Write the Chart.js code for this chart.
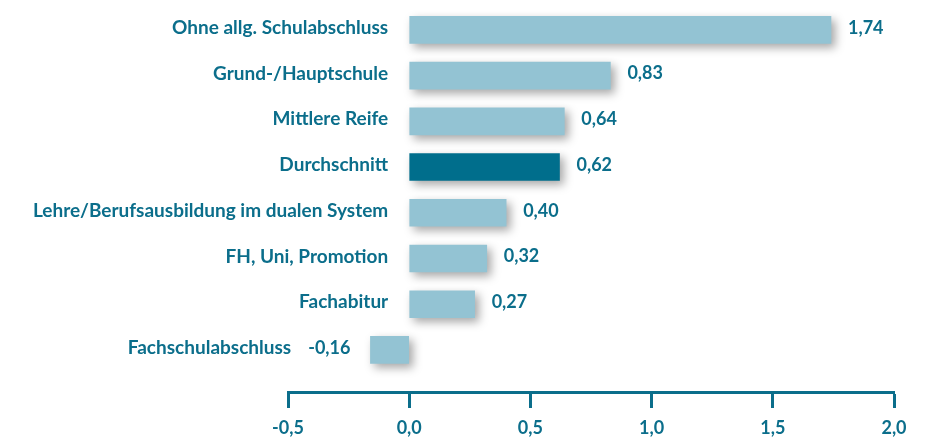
<!DOCTYPE html>
<html>
<head>
<meta charset="utf-8">
<script src="https://cdn.jsdelivr.net/npm/chart.js@4"></script>
<style>
  body { margin: 0; background: #fff; }
  canvas { display: block; }
</style>
</head>
<body>
<canvas id="chart" width="925" height="440"></canvas>
<script>
// Data
const categories = [
    'Ohne allg. Schulabschluss',
    'Grund-/Hauptschule',
    'Mittlere Reife',
    'Durchschnitt',
    'Lehre/Berufsausbildung im dualen System',
    'FH, Uni, Promotion',
    'Fachabitur',
    'Fachschulabschluss'
];
const values = [1.74, 0.83, 0.64, 0.62, 0.40, 0.32, 0.27, -0.16];
const highlighted = 'Durchschnitt';
const xTicks = [-0.5, 0, 0.5, 1, 1.5, 2];

const teal = '#0b6e8b';
const barLight = '#93c3d3';
const barDark = '#006e8c';
const fontFamily = 'Lato, sans-serif';

function formatDe(v, digits) {
    return v.toFixed(digits).replace('.', ',');
}

// Soft shadow under the bars
const shadowPlugin = {
    id: 'barShadow',
    beforeDatasetsDraw(chart) {
        const ctx = chart.ctx;
        ctx.save();
        ctx.shadowColor = 'rgba(0, 0, 0, 0.35)';
        ctx.shadowBlur = 10;
        ctx.shadowOffsetX = 4;
        ctx.shadowOffsetY = 4;
    },
    afterDatasetsDraw(chart) {
        chart.ctx.restore();
    }
};

// Category names and values next to the bars
const labelPlugin = {
    id: 'barLabels',
    afterDatasetsDraw(chart) {
        const ctx = chart.ctx;
        const xScale = chart.scales.x;
        const zeroX = xScale.getPixelForValue(0);
        const meta = chart.getDatasetMeta(0);
        const valueFont = 'bold 18px ' + fontFamily;
        const nameFont = 'bold 19px ' + fontFamily;
        ctx.save();
        ctx.fillStyle = teal;
        ctx.textBaseline = 'middle';
        meta.data.forEach((bar, i) => {
            const v = values[i];
            const text = formatDe(v, 2);
            const y = bar.y - 2;
            if (v >= 0) {
                ctx.font = valueFont;
                ctx.textAlign = 'left';
                ctx.fillText(text, bar.x + 17, y);
                ctx.font = nameFont;
                ctx.textAlign = 'right';
                ctx.fillText(categories[i], zeroX - 21, y);
            } else {
                ctx.font = valueFont;
                ctx.textAlign = 'right';
                const right = bar.x - 20;
                ctx.fillText(text, right, y);
                const w = ctx.measureText(text).width;
                ctx.font = nameFont;
                ctx.fillText(categories[i], right - w - 17, y);
            }
        });
        ctx.restore();
    }
};

new Chart(document.getElementById('chart'), {
    type: 'bar',
    data: {
        datasets: [{
            data: values.map((v, i) => ({ x: v, y: i })),
            backgroundColor: categories.map(c => c === highlighted ? barDark : barLight),
            borderWidth: 0,
            barThickness: 27
        }]
    },
    options: {
        indexAxis: 'y',
        responsive: false,
        animation: false,
        layout: {
            padding: { left: 288, right: 31, top: 7, bottom: 0 }
        },
        plugins: {
            legend: { display: false },
            tooltip: { enabled: false }
        },
        scales: {
            x: {
                type: 'linear',
                min: xTicks[0],
                max: xTicks[xTicks.length - 1],
                afterBuildTicks(scale) {
                    scale.ticks = xTicks.map(v => ({ value: v }));
                },
                afterFit(scale) {
                    scale.height = 48;
                },
                ticks: {
                    color: teal,
                    padding: 9,
                    font: { family: fontFamily, size: 18, weight: 'bold' },
                    callback: v => formatDe(v, 1)
                },
                grid: {
                    drawOnChartArea: false,
                    drawTicks: true,
                    tickLength: 16,
                    tickColor: teal,
                    tickWidth: 3
                },
                border: {
                    display: true,
                    color: teal,
                    width: 3
                }
            },
            y: {
                type: 'linear',
                offset: false,
                min: -0.5,
                max: 7.92,
                reverse: true,
                display: false
            }
        }
    },
    plugins: [shadowPlugin, labelPlugin]
});
</script>
</body>
</html>
